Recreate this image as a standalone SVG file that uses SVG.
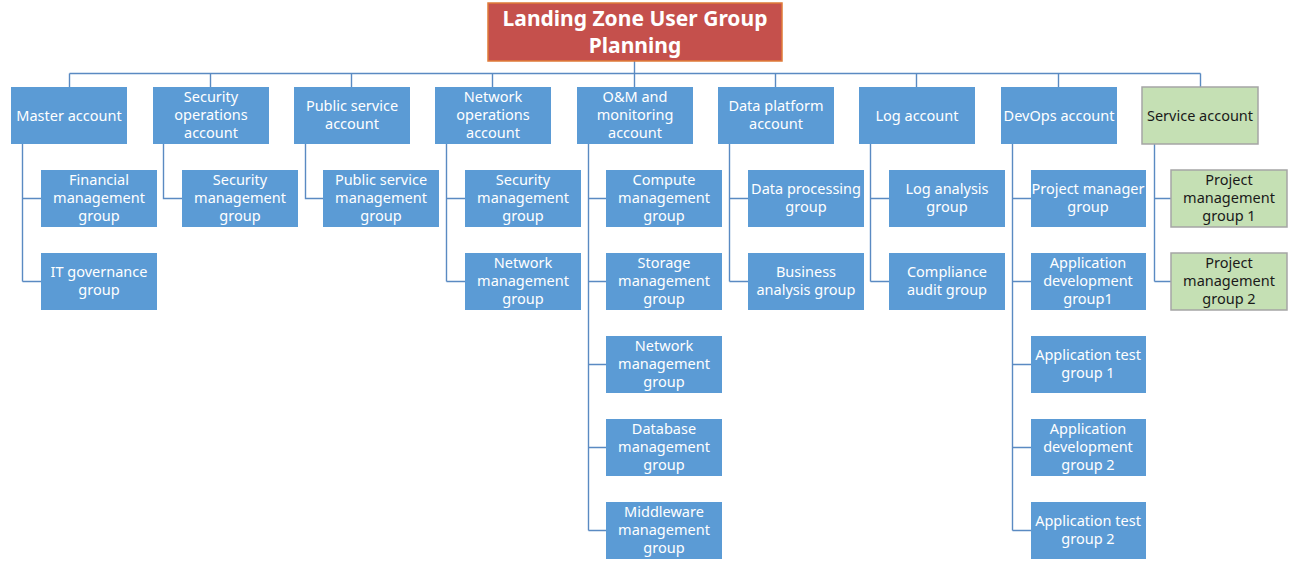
<svg xmlns="http://www.w3.org/2000/svg" width="1293" height="566" viewBox="0 0 1293 566">
<style>
.b{fill:#5B9BD5}
.g{fill:#C5E0B4;stroke:#A5A5A5;stroke-width:1.5}
.t{font-family:"Noto Sans","Open Sans",sans-serif;font-size:14.5px;fill:#FFFFFF;text-anchor:middle}
.tg{font-family:"Noto Sans","Open Sans",sans-serif;font-size:14.5px;fill:#1A1A1A;text-anchor:middle}
.c{fill:none;stroke:#5A8AC2;stroke-width:1.4}
</style>
<rect width="1293" height="566" fill="#FFFFFF"/>
<g id="connectors">
<path class="c" d="M634.5 61V73.5M69.5 73.5H1200.5M69.5 73.5V87M210.5 73.5V87M351.5 73.5V87M492.5 73.5V87M634.5 73.5V87M775.5 73.5V87M916.5 73.5V87M1058.5 73.5V87M1200.5 73.5V87"/>
<path class="c" d="M22.5 144V281.5M22.5 198.5H41M22.5 281.5H41"/>
<path class="c" d="M163.5 144V198.5H182"/>
<path class="c" d="M305.5 144V198.5H323"/>
<path class="c" d="M446.5 144V281.5M446.5 198.5H465M446.5 281.5H465"/>
<path class="c" d="M588.5 144V530.5M588.5 198.5H606M588.5 281.5H606M588.5 364.5H606M588.5 447.5H606M588.5 530.5H606"/>
<path class="c" d="M729.5 144V281.5M729.5 198.5H748M729.5 281.5H748"/>
<path class="c" d="M870.5 144V281.5M870.5 198.5H889M870.5 281.5H889"/>
<path class="c" d="M1012.5 144V530.5M1012.5 198.5H1031M1012.5 281.5H1031M1012.5 364.5H1031M1012.5 447.5H1031M1012.5 530.5H1031"/>
<path class="c" d="M1154.5 144V281.5M1154.5 198.5H1171M1154.5 281.5H1171"/>
</g>
<g id="title">
<rect x="488" y="3" width="294" height="58" fill="#C5504C" stroke="#E07B39" stroke-width="1.5"/>
<text x="635" y="26" font-family="'Noto Sans','Open Sans',sans-serif" font-size="21" font-weight="bold" fill="#FFFFFF" text-anchor="middle">Landing Zone User Group</text>
<text x="635" y="53" font-family="'Noto Sans','Open Sans',sans-serif" font-size="21" font-weight="bold" fill="#FFFFFF" text-anchor="middle">Planning</text>
</g>
<g id="master-account"><rect class="b" x="11" y="87" width="116" height="57"/><text class="t" x="69" y="120.5">Master account</text></g>
<g id="financial-management-group"><rect class="b" x="41" y="170" width="116" height="57"/><text class="t" x="99" y="185">Financial</text><text class="t" x="99" y="203">management</text><text class="t" x="99" y="221">group</text></g>
<g id="it-governance-group"><rect class="b" x="41" y="253" width="116" height="57"/><text class="t" x="99" y="277">IT governance</text><text class="t" x="99" y="295">group</text></g>

<g id="security-operations-account"><rect class="b" x="153" y="87" width="116" height="57"/><text class="t" x="211" y="102">Security</text><text class="t" x="211" y="120">operations</text><text class="t" x="211" y="138">account</text></g>
<g id="security-management-group-1"><rect class="b" x="182" y="170" width="116" height="57"/><text class="t" x="240" y="185">Security</text><text class="t" x="240" y="203">management</text><text class="t" x="240" y="221">group</text></g>

<g id="public-service-account"><rect class="b" x="294" y="87" width="116" height="57"/><text class="t" x="352" y="111">Public service</text><text class="t" x="352" y="129">account</text></g>
<g id="public-service-management-group"><rect class="b" x="323" y="170" width="116" height="57"/><text class="t" x="381" y="185">Public service</text><text class="t" x="381" y="203">management</text><text class="t" x="381" y="221">group</text></g>

<g id="network-operations-account"><rect class="b" x="435" y="87" width="116" height="57"/><text class="t" x="493" y="102">Network</text><text class="t" x="493" y="120">operations</text><text class="t" x="493" y="138">account</text></g>
<g id="security-management-group-2"><rect class="b" x="465" y="170" width="116" height="57"/><text class="t" x="523" y="185">Security</text><text class="t" x="523" y="203">management</text><text class="t" x="523" y="221">group</text></g>
<g id="network-management-group-1"><rect class="b" x="465" y="253" width="116" height="57"/><text class="t" x="523" y="268">Network</text><text class="t" x="523" y="286">management</text><text class="t" x="523" y="304">group</text></g>

<g id="om-monitoring-account"><rect class="b" x="577" y="87" width="116" height="57"/><text class="t" x="635" y="102">O&amp;M and</text><text class="t" x="635" y="120">monitoring</text><text class="t" x="635" y="138">account</text></g>
<g id="compute-management-group"><rect class="b" x="606" y="170" width="116" height="57"/><text class="t" x="664" y="185">Compute</text><text class="t" x="664" y="203">management</text><text class="t" x="664" y="221">group</text></g>
<g id="storage-management-group"><rect class="b" x="606" y="253" width="116" height="57"/><text class="t" x="664" y="268">Storage</text><text class="t" x="664" y="286">management</text><text class="t" x="664" y="304">group</text></g>
<g id="network-management-group-2"><rect class="b" x="606" y="336" width="116" height="57"/><text class="t" x="664" y="351">Network</text><text class="t" x="664" y="369">management</text><text class="t" x="664" y="387">group</text></g>
<g id="database-management-group"><rect class="b" x="606" y="419" width="116" height="57"/><text class="t" x="664" y="434">Database</text><text class="t" x="664" y="452">management</text><text class="t" x="664" y="470">group</text></g>
<g id="middleware-management-group"><rect class="b" x="606" y="502" width="116" height="57"/><text class="t" x="664" y="517">Middleware</text><text class="t" x="664" y="535">management</text><text class="t" x="664" y="553">group</text></g>

<g id="data-platform-account"><rect class="b" x="718" y="87" width="116" height="57"/><text class="t" x="776" y="111">Data platform</text><text class="t" x="776" y="129">account</text></g>
<g id="data-processing-group"><rect class="b" x="748" y="170" width="116" height="57"/><text class="t" x="806" y="194">Data processing</text><text class="t" x="806" y="212">group</text></g>
<g id="business-analysis-group"><rect class="b" x="748" y="253" width="116" height="57"/><text class="t" x="806" y="277">Business</text><text class="t" x="806" y="295">analysis group</text></g>

<g id="log-account"><rect class="b" x="859" y="87" width="116" height="57"/><text class="t" x="917" y="120.5">Log account</text></g>
<g id="log-analysis-group"><rect class="b" x="889" y="170" width="116" height="57"/><text class="t" x="947" y="194">Log analysis</text><text class="t" x="947" y="212">group</text></g>
<g id="compliance-audit-group"><rect class="b" x="889" y="253" width="116" height="57"/><text class="t" x="947" y="277">Compliance</text><text class="t" x="947" y="295">audit group</text></g>

<g id="devops-account"><rect class="b" x="1001" y="87" width="116" height="57"/><text class="t" x="1059" y="120.5">DevOps account</text></g>
<g id="project-manager-group"><rect class="b" x="1031" y="170" width="115" height="57"/><text class="t" x="1088" y="194">Project manager</text><text class="t" x="1088" y="212">group</text></g>
<g id="application-development-group1"><rect class="b" x="1031" y="253" width="115" height="57"/><text class="t" x="1088" y="268">Application</text><text class="t" x="1088" y="286">development</text><text class="t" x="1088" y="304">group1</text></g>
<g id="application-test-group-1"><rect class="b" x="1031" y="336" width="115" height="57"/><text class="t" x="1088" y="360">Application test</text><text class="t" x="1088" y="378">group 1</text></g>
<g id="application-development-group-2"><rect class="b" x="1031" y="419" width="115" height="57"/><text class="t" x="1088" y="434">Application</text><text class="t" x="1088" y="452">development</text><text class="t" x="1088" y="470">group 2</text></g>
<g id="application-test-group-2"><rect class="b" x="1031" y="502" width="115" height="57"/><text class="t" x="1088" y="526">Application test</text><text class="t" x="1088" y="544">group 2</text></g>

<g id="service-account"><rect class="g" x="1142" y="87" width="116" height="57"/><text class="tg" x="1200" y="120.5">Service account</text></g>
<g id="project-management-group-1"><rect class="g" x="1171" y="170" width="116" height="57"/><text class="tg" x="1229" y="185">Project</text><text class="tg" x="1229" y="203">management</text><text class="tg" x="1229" y="221">group 1</text></g>
<g id="project-management-group-2"><rect class="g" x="1171" y="253" width="116" height="57"/><text class="tg" x="1229" y="268">Project</text><text class="tg" x="1229" y="286">management</text><text class="tg" x="1229" y="304">group 2</text></g>
</svg>
